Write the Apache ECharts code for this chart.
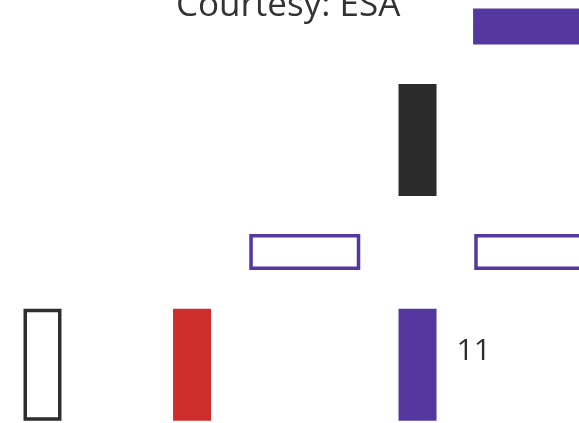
<!DOCTYPE html>
<html>
<head>
<meta charset="utf-8">
<script src="https://cdn.jsdelivr.net/npm/echarts@6/dist/echarts.min.js"></script>
<style>html,body{margin:0;padding:0;background:#fff}#c{width:579px;height:423px}</style>
</head>
<body>
<div id="c"></div>
<script>
// Marks in grid units (column, row)
const markCols   = [2.985, 2, 1, 2.995, -1.326, 0, 2];
const markRows   = [0, 1.006, 2, 2, 3, 3, 3];
const markShapes = ['wide', 'tall', 'wide', 'wide', 'tall', 'tall', 'tall'];
const markKinds  = ['purpleFill', 'blackFill', 'purpleLine', 'purpleLine', 'blackLine', 'redFill', 'purpleFill'];
const markLabels = ['', '', '', '', '', '', '11'];
const captionText = 'Courtesy: ESA';

const styles = {
  purpleFill: {fill: '#54389f', stroke: null},
  blackFill:  {fill: '#2b2b2b', stroke: null},
  redFill:    {fill: '#cf2e2e', stroke: null},
  purpleLine: {fill: '#ffffff', stroke: '#54389f'},
  blackLine:  {fill: '#ffffff', stroke: '#2e2e2e'}
};
const sizes = {tall: [38, 112], wide: [111, 36]};

const data = markCols.map((c, i) => [c, markRows[i], i]);

const chart = echarts.init(document.getElementById('c'), null, {renderer: 'canvas'});
chart.setOption({
  animation: false,
  backgroundColor: '#ffffff',
  title: {
    text: captionText,
    left: 171,
    top: -16,
    textStyle: {fontFamily: 'Open Sans', fontSize: 35, fontWeight: 'normal', color: '#333333'}
  },
  grid: {left: 0, right: 0, top: 0, bottom: 0},
  xAxis: {type: 'value', min: -1.7029, max: 3.432, show: false},
  yAxis: {type: 'value', min: -0.235, max: 3.5166, inverse: true, show: false},
  series: [{
    type: 'custom',
    data: data,
    renderItem: function (params, api) {
      const i = api.value(2);
      const p = api.coord([api.value(0), api.value(1)]);
      const sz = sizes[markShapes[i]];
      const st = styles[markKinds[i]];
      const children = [];
      if (st.stroke) {
        const lw = 3.5;
        children.push({
          type: 'rect',
          shape: {x: p[0] - sz[0] / 2 + lw / 2, y: p[1] - sz[1] / 2 + lw / 2, width: sz[0] - lw, height: sz[1] - lw},
          style: {fill: st.fill, stroke: st.stroke, lineWidth: lw}
        });
      } else {
        children.push({
          type: 'rect',
          shape: {x: p[0] - sz[0] / 2, y: p[1] - sz[1] / 2, width: sz[0], height: sz[1]},
          style: {fill: st.fill}
        });
      }
      if (markLabels[i]) {
        children.push({
          type: 'text',
          x: p[0] + sz[0] / 2 + 20,
          y: p[1] - 13,
          style: {text: markLabels[i], fontFamily: 'Open Sans', fontSize: 30, fill: '#2e2e2e', align: 'left', verticalAlign: 'middle'}
        });
      }
      return {type: 'group', children: children};
    }
  }]
});
</script>
</body>
</html>
